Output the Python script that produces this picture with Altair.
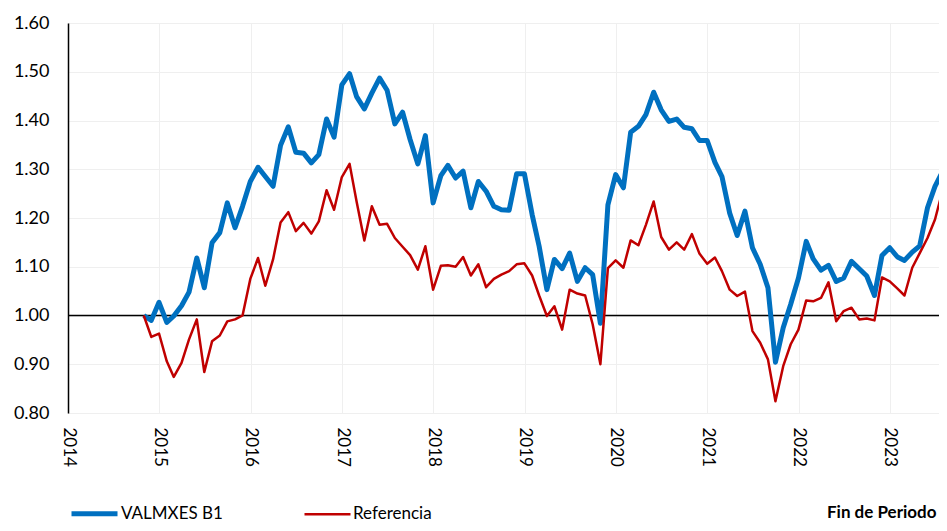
import altair as alt
import pandas as pd

# Month-end dates, Oct 2014 .. Aug 2023
dates = pd.date_range("2014-10-31", periods=107, freq="ME").strftime("%Y-%m-%dT00:00:00").tolist()

valmxes = [
    1.000, 0.990, 1.027, 0.986, 0.999, 1.020, 1.048, 1.118, 1.057, 1.149,
    1.170, 1.231, 1.180, 1.224, 1.275, 1.304, 1.285, 1.265, 1.349, 1.387,
    1.335, 1.333, 1.313, 1.330, 1.403, 1.366, 1.473, 1.496, 1.449, 1.424,
    1.456, 1.487, 1.462, 1.393, 1.417, 1.361, 1.311, 1.369, 1.231, 1.287,
    1.308, 1.282, 1.296, 1.221, 1.275, 1.255, 1.224, 1.217, 1.216, 1.291,
    1.291, 1.207, 1.142, 1.053, 1.115, 1.096, 1.128, 1.070, 1.098, 1.084,
    0.984, 1.227, 1.289, 1.262, 1.376, 1.388, 1.412, 1.458, 1.422, 1.398,
    1.403, 1.386, 1.383, 1.359, 1.359, 1.314, 1.285, 1.210, 1.164, 1.214,
    1.139, 1.105, 1.057, 0.904, 0.975, 1.023, 1.077, 1.152, 1.116, 1.093,
    1.103, 1.070, 1.077, 1.111, 1.096, 1.081, 1.041, 1.123, 1.139, 1.120,
    1.113, 1.130, 1.143, 1.221, 1.265, 1.296, 1.430,
]

referencia = [
    1.000, 0.956, 0.963, 0.906, 0.874, 0.903, 0.951, 0.992, 0.884, 0.947,
    0.959, 0.988, 0.992, 1.000, 1.075, 1.118, 1.061, 1.115, 1.191, 1.212,
    1.173, 1.190, 1.168, 1.193, 1.257, 1.217, 1.284, 1.311, 1.234, 1.154,
    1.224, 1.186, 1.188, 1.159, 1.141, 1.124, 1.094, 1.142, 1.053, 1.102,
    1.103, 1.100, 1.120, 1.082, 1.105, 1.058, 1.075, 1.084, 1.091, 1.105,
    1.107, 1.082, 1.041, 0.999, 1.019, 0.971, 1.053, 1.045, 1.041, 0.982,
    0.900, 1.097, 1.113, 1.098, 1.154, 1.144, 1.186, 1.234, 1.161, 1.135,
    1.150, 1.135, 1.167, 1.127, 1.106, 1.119, 1.091, 1.053, 1.040, 1.049,
    0.968, 0.944, 0.910, 0.824, 0.896, 0.941, 0.971, 1.031, 1.029, 1.036,
    1.068, 0.988, 1.009, 1.016, 0.992, 0.994, 0.990, 1.078, 1.070, 1.055,
    1.041, 1.098, 1.128, 1.159, 1.197, 1.258, 1.390,
]

series_names = ["VALMXES B1", "Referencia"]
series_colors = ["#0070C0", "#C00000"]
series_widths = [5, 2.5]
y_ticks = [0.8, 0.9, 1.0, 1.1, 1.2, 1.3, 1.4, 1.5, 1.6]

df = pd.concat([
    pd.DataFrame({"fecha": dates, "valor": valmxes, "serie": series_names[0]}),
    pd.DataFrame({"fecha": dates, "valor": referencia, "serie": series_names[1]}),
])

FONT = "Lato"

legend_cfg = dict(
    title=None,
    orient="none",
    direction="horizontal",
    legendX=1,
    legendY=465,
    symbolType="stroke",
    symbolSize=2116,
    labelFontSize=17,
    labelColor="#000000",
    labelOffset=1,
    columnPadding=76,
    padding=0,
)

x_enc = alt.X(
    "fecha:T",
    scale=alt.Scale(domain=[alt.DateTime(year=2014, month=1, date=1),
                            alt.DateTime(year=2023, month=8, date=17)]),
    axis=alt.Axis(
        title="Fin de Periodo",
        format="%Y",
        tickCount={"interval": "year", "step": 1},
        labelAngle=90,
        labelPadding=14,
        labelFontSize=17,
        labelColor="#000000",
        grid=True,
        gridColor="#EFEFEF",
        domain=False,
        ticks=False,
        titleX=868,
        titleY=99,
        titleAlign="right",
        titleBaseline="middle",
        titleFontWeight="bold",
        titleFontSize=17,
        titleColor="#000000",
    ),
)

y_enc = alt.Y(
    "valor:Q",
    scale=alt.Scale(domain=[0.8, 1.6], nice=False, zero=False),
    axis=alt.Axis(
        title=None,
        values=y_ticks,
        format=".2f",
        labelPadding=19,
        labelFontSize=18,
        labelColor="#000000",
        grid=True,
        gridColor="#EFEFEF",
        domain=True,
        domainColor="#000000",
        domainWidth=1.5,
        ticks=False,
    ),
)

lines = alt.Chart(df).mark_line(clip=True, strokeJoin="round").encode(
    x=x_enc,
    y=y_enc,
    color=alt.Color(
        "serie:N",
        scale=alt.Scale(domain=series_names, range=series_colors),
        legend=alt.Legend(**legend_cfg),
    ),
    strokeWidth=alt.StrokeWidth(
        "serie:N",
        scale=alt.Scale(domain=series_names, range=series_widths),
        legend=alt.Legend(**legend_cfg),
    ),
)

baseline = alt.Chart(pd.DataFrame({"y": [1.0]})).mark_rule(color="#000000", strokeWidth=1.5).encode(
    y=alt.Y("y:Q", scale=alt.Scale(domain=[0.8, 1.6])),
)

chart = alt.layer(baseline, lines).properties(
    width=879,
    height=390,
    padding={"left": 60, "top": 15, "right": -8, "bottom": 110},
    autosize=alt.AutoSizeParams(type="none"),
).configure(
    font=FONT,
).configure_view(
    stroke=None,
)

chart.save("out.html", embed_options={"renderer": "svg", "actions": False})
